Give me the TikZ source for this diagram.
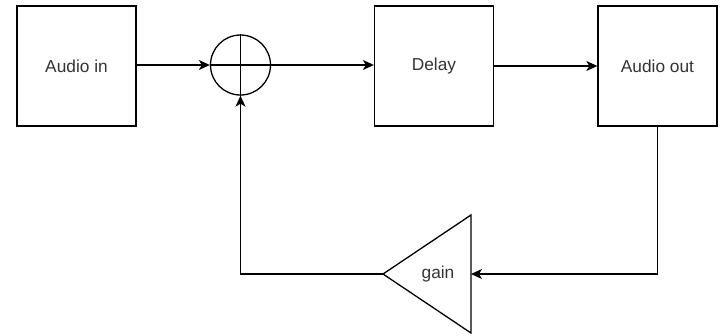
\documentclass[tikz,border=0pt]{standalone}
\usepackage{fontspec}
\setmainfont{Liberation Sans}
\usetikzlibrary{arrows.meta}
\definecolor{txt}{HTML}{333333}
\tikzset{
  blk/.style={draw=black, line width=1.3pt, minimum width=119pt, minimum height=120pt, inner sep=0pt, text=txt, font=\fontsize{17.3}{20}\selectfont},
  conn/.style={draw=black, line width=1.3pt, -{Stealth[length=11pt,width=10pt,inset=3pt]}},
  plain/.style={draw=black, line width=1.3pt},
  lbl/.style={text=txt, font=\fontsize{17.3}{20}\selectfont, inner sep=0pt}
}
\begin{document}
\begin{tikzpicture}[x=1pt,y=-1pt]
\useasboundingbox (0,0) rectangle (723,335);
\node[blk] (ain) at (76.5,66) {Audio in};
\node[blk] (delay) at (434,66) {Delay};
\node[blk] (aout) at (657.5,66) {Audio out};
\node[draw=black, line width=1.3pt, circle, minimum size=60pt, inner sep=0pt] (sum) at (240.5,65) {};
\draw[plain] (sum.north) -- (sum.south);
\draw[plain] (sum.west) -- (sum.east);
% gain triangle
\coordinate (gtip) at (383,274);
\coordinate (gtop) at (471,215);
\coordinate (gbot) at (471,333);
\coordinate (gin) at (471,274);
\draw[plain, line join=miter] (gtip) -- (gtop) -- (gbot) -- cycle;
\node[lbl] (gain) at (438,274) {gain};
% connectors
\draw[conn] (ain.east |- sum.west) -- (sum.west);
\draw[conn] (sum.east) -- (delay.west |- sum.east);
\draw[conn] (delay.east) -- (aout.west);
\draw[conn] (aout.south) |- (gin);
\draw[conn] (gtip) -| (sum.south);
\end{tikzpicture}
\end{document}
